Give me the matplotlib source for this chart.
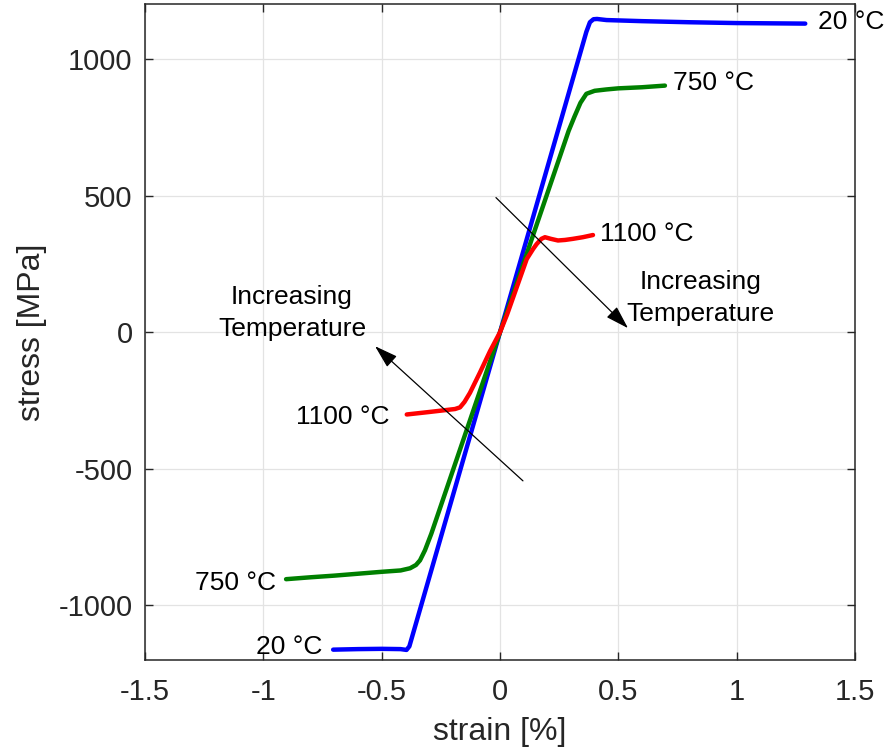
import numpy as np
import matplotlib
matplotlib.use("Agg")
import matplotlib.pyplot as plt

plt.rcParams['font.family'] = ['Liberation Sans', 'DejaVu Sans']
plt.rcParams['axes.unicode_minus'] = False

## 20 °C
strain_20 = [-0.705, -0.6, -0.5, -0.42, -0.395, -0.383, 0.0, 0.365, 0.38, 0.395, 0.41, 0.45, 0.6, 0.8, 1.0, 1.29]
stress_20 = [-1162, -1160, -1159, -1160, -1163, -1150, 0, 1100, 1135, 1146, 1147, 1143, 1139, 1135, 1132, 1130]

## 750 °C
strain_750 = [-0.904, -0.8, -0.7, -0.6, -0.5, -0.42, -0.38, -0.355, -0.338, -0.317, -0.29, 0.0,
              0.29, 0.315, 0.34, 0.365, 0.4, 0.45, 0.5, 0.6, 0.697]
stress_750 = [-904, -897, -891, -884, -877, -872, -864, -852, -835, -798, -737, 0,
              737, 790, 840, 873, 884, 889, 893, 897, 903]

## 1100 °C
strain_1100 = [-0.394, -0.3, -0.24, -0.19, -0.169, -0.15, -0.127, -0.085, -0.042, 0.0, 0.03, 0.113,
               0.14, 0.155, 0.175, 0.19, 0.215, 0.245, 0.275, 0.308, 0.35, 0.393]
stress_1100 = [-301, -292, -286, -281, -275, -255, -222, -148, -69, 0, 65, 268,
               305, 323, 342, 348, 342, 336, 338, 342, 348, 356]

x_ticks = [-1.5, -1, -0.5, 0, 0.5, 1, 1.5]
x_labels = ['-1.5', '-1', '-0.5', '0', '0.5', '1', '1.5']
y_ticks = [-1000, -500, 0, 500, 1000]

fig = plt.figure(figsize=(8.93, 7.48), dpi=100)
ax = fig.add_axes([0.1624, 0.1176, 0.795, 0.8764])

ax.plot(strain_20, stress_20, color='#0000ff', lw=3.2, solid_capstyle='round')
ax.plot(strain_750, stress_750, color='#008000', lw=3.2, solid_capstyle='round')
ax.plot(strain_1100, stress_1100, color='#ff0000', lw=3.2, solid_capstyle='round')

ax.set_xlim(-1.5, 1.5)
ax.set_ylim(-1200, 1200)
ax.set_xticks(x_ticks)
ax.set_xticklabels(x_labels)
ax.set_yticks(y_ticks)

ax.grid(True, color='#e3e3e3', lw=0.9)
ax.set_axisbelow(True)
for s in ax.spines.values():
    s.set_linewidth(1.1)
    s.set_color('#262626')
ax.tick_params(direction='in', length=6, width=1.0, color='#262626',
               top=True, right=True, labelsize=21, labelcolor='#262626')
ax.tick_params(axis='x', pad=13)
ax.tick_params(axis='y', pad=9)

ax.set_xlabel('strain [%]', fontsize=23, color='#262626', labelpad=8)
ax.set_ylabel('stress [MPa]', fontsize=23, color='#262626', labelpad=8)

## 곡선 라벨
fs = 19
ax.text(1.343, 1136, '20 °C', fontsize=fs, ha='left', va='center')
ax.text(0.731, 912, '750 °C', fontsize=fs, ha='left', va='center')
ax.text(0.4225, 360, '1100 °C', fontsize=fs, ha='left', va='center')
ax.text(-0.465, -312, '1100 °C', fontsize=fs, ha='right', va='center')
ax.text(-0.946, -919, '750 °C', fontsize=fs, ha='right', va='center')
ax.text(-0.752, -1154, '20 °C', fontsize=fs, ha='right', va='center')

ax.text(-0.879, 70, 'Increasing\nTemperature', fontsize=fs, ha='center', va='center', linespacing=1.4)
ax.text(0.849, 125, 'Increasing\nTemperature', fontsize=fs, ha='center', va='center', linespacing=1.4)

## 화살표
arrow = dict(arrowstyle='-|>, head_length=0.9, head_width=0.28', lw=0.9, color='k',
             shrinkA=0, shrinkB=0, mutation_scale=16)
ax.annotate('', xy=(0.541, 15), xytext=(-0.017, 493), arrowprops=arrow)
ax.annotate('', xy=(-0.528, -51), xytext=(0.097, -544), arrowprops=arrow)

fig.savefig('out.png', dpi=100)
